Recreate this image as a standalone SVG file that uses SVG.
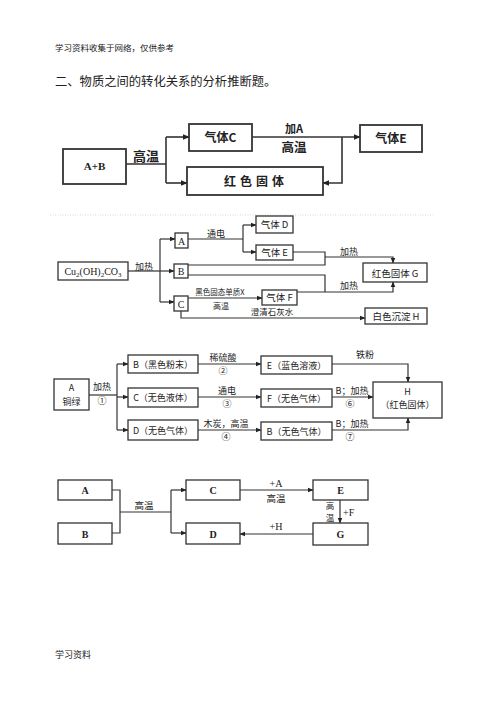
<svg xmlns="http://www.w3.org/2000/svg" width="500" height="707" viewBox="0 0 500 707">
<defs>
<marker id="ah" viewBox="0 0 10 10" refX="9" refY="5" markerWidth="6" markerHeight="6" orient="auto" markerUnits="userSpaceOnUse"><path d="M0,1 L10,5 L0,9 Z" fill="#222"/></marker>
<marker id="ah2" viewBox="0 0 10 10" refX="9" refY="5" markerWidth="7" markerHeight="7" orient="auto" markerUnits="userSpaceOnUse"><path d="M0,1 L10,5 L0,9 Z" fill="#222"/></marker>
<style>
text{font-family:"Noto Sans CJK SC","Liberation Serif",serif;fill:#222}
.c{text-anchor:middle}
.box{fill:#fff;stroke:#333;stroke-width:1.3}
.box1{fill:#fff;stroke:#333;stroke-width:1.8}
.ln{fill:none;stroke:#333;stroke-width:1.2}
.ln1{fill:none;stroke:#333;stroke-width:1.6}
.b1{font-weight:bold;font-size:12px}
.t2{font-size:9px}
.t4{font-size:10px;font-weight:bold}
.ser{font-family:"Liberation Serif","Noto Sans CJK SC",serif}
</style>
</defs>
<rect width="500" height="707" fill="#fff"/>
<text x="55" y="51" style="font-size:8.5px">学习资料收集于网络，仅供参考</text>
<text x="55" y="86" style="font-size:12.3px">二、物质之间的转化关系的分析推断题。</text>
<text x="55" y="658" style="font-size:9px">学习资料</text>
<line x1="50" y1="215" x2="433" y2="215" stroke="#ccc" stroke-width="0.8" stroke-dasharray="1,1.5"/>

<!-- Diagram 1 -->
<g id="d1-connectors">
<path class="ln1" d="M126,164 H166"/>
<path class="ln1" d="M166,137 V183"/>
<path class="ln1" d="M166,137 H189" marker-end="url(#ah2)"/>
<path class="ln1" d="M166,183 H187" marker-end="url(#ah2)"/>
<path class="ln1" d="M252,137 H360" marker-end="url(#ah2)"/>
<path class="ln1" d="M342,137 V183 H323" marker-end="url(#ah2)"/>
<text class="b1 c" x="146" y="161" style="font-size:13px">高温</text>
<text class="b1 c" x="294" y="133" style="font-size:11px">加A</text>
<text class="b1 c" x="294" y="152" style="font-size:12.5px">高温</text>
</g>
<g id="d1-AB"><rect class="box1" x="63" y="149" width="63" height="35"/><text class="b1 c ser" x="94.5" y="170" style="font-size:11px">A+B</text></g>
<g id="d1-gasC"><rect class="box1" x="189" y="124" width="63" height="27"/><text class="b1 c" x="220.5" y="142">气体C</text></g>
<g id="d1-red"><rect class="box1" x="187" y="167" width="136" height="28"/><text class="b1 c" x="256" y="186" style="letter-spacing:4px">红色固体</text></g>
<g id="d1-gasE"><rect class="box1" x="360" y="125" width="62" height="27"/><text class="b1 c" x="391" y="143">气体E</text></g>

<!-- Diagram 2 -->
<g id="d2-connectors">
<path class="ln" d="M128,271 H160"/>
<path class="ln" d="M160,239 V302"/>
<path class="ln" d="M160,239 H175" marker-end="url(#ah)"/>
<path class="ln" d="M160,271 H174" marker-end="url(#ah)"/>
<path class="ln" d="M160,302 H174" marker-end="url(#ah)"/>
<path class="ln" d="M188,239 H243"/>
<path class="ln" d="M243,225 V252"/>
<path class="ln" d="M243,225 H256" marker-end="url(#ah)"/>
<path class="ln" d="M243,252 H256" marker-end="url(#ah)"/>
<path class="ln" d="M293,252 H325 V265 H188"/>
<path class="ln" d="M325,257 H393 V263" marker-end="url(#ah)"/>
<path class="ln" d="M188,275 H325 V292"/>
<path class="ln" d="M297,292 H393 V282" marker-end="url(#ah)"/>
<path class="ln" d="M188,298 H262" marker-end="url(#ah)"/>
<path class="ln" d="M181,311 V318 H365" marker-end="url(#ah)"/>
<text class="t2 c" x="144" y="270">加热</text>
<text class="t2 c" x="216" y="237">通电</text>
<text class="t2 c" x="349" y="255">加热</text>
<text class="t2 c" x="349" y="289">加热</text>
<text class="c" x="220" y="295" style="font-size:7.5px">黑色固态单质X</text>
<text class="c" x="221" y="309" style="font-size:8px">高温</text>
<text class="c" x="272" y="315" style="font-size:8.5px">澄清石灰水</text>
</g>
<g id="d2-cu"><rect class="box" x="58" y="262" width="70" height="18"/><text class="c ser" x="93" y="275" style="font-size:10px">Cu<tspan dy="2" style="font-size:7px">2</tspan><tspan dy="-2">(OH)</tspan><tspan dy="2" style="font-size:7px">2</tspan><tspan dy="-2">CO</tspan><tspan dy="2" style="font-size:7px">3</tspan></text></g>
<g id="d2-A"><rect class="box" x="175" y="233" width="13" height="15"/><text class="c ser" x="181.5" y="244.5" style="font-size:10px">A</text></g>
<g id="d2-B"><rect class="box" x="174" y="264" width="14" height="14"/><text class="c ser" x="181" y="275" style="font-size:10px">B</text></g>
<g id="d2-C"><rect class="box" x="174" y="296" width="14" height="15"/><text class="c ser" x="181" y="307.5" style="font-size:10px">C</text></g>
<g id="d2-D"><rect class="box" x="256" y="216" width="37" height="17"/><text class="c" x="274.5" y="228" style="font-size:9.5px">气体 D</text></g>
<g id="d2-E"><rect class="box" x="256" y="245" width="37" height="15"/><text class="c" x="274.5" y="256" style="font-size:9.5px">气体 E</text></g>
<g id="d2-F"><rect class="box" x="262" y="290" width="35" height="15"/><text class="c" x="279.5" y="301" style="font-size:9.5px">气体 F</text></g>
<g id="d2-G"><rect class="box" x="363" y="263" width="64" height="19"/><text class="c" x="395" y="276.5" style="font-size:9.5px">红色固体 G</text></g>
<g id="d2-H"><rect class="box" x="365" y="308" width="62" height="16"/><text class="c" x="396" y="320" style="font-size:9.5px">白色沉淀 H</text></g>

<!-- Diagram 3 -->
<g id="d3-connectors">
<path class="ln" d="M89,395 H117"/>
<path class="ln" d="M117,364 V430"/>
<path class="ln" d="M117,364 H128" marker-end="url(#ah)"/>
<path class="ln" d="M117,397 H128" marker-end="url(#ah)"/>
<path class="ln" d="M117,430 H128" marker-end="url(#ah)"/>
<path class="ln" d="M198,364 H261" marker-end="url(#ah)"/>
<path class="ln" d="M198,397 H261" marker-end="url(#ah)"/>
<path class="ln" d="M198,430 H261" marker-end="url(#ah)"/>
<path class="ln" d="M332,364 H408 V382" marker-end="url(#ah)"/>
<path class="ln" d="M332,397 H373" marker-end="url(#ah)"/>
<path class="ln" d="M332,430 H408 V418" marker-end="url(#ah)"/>
<text class="t2 c" x="102" y="390">加热</text>
<text class="t2 c" x="102" y="404">①</text>
<text class="t2 c" x="223" y="361">稀硫酸</text>
<text class="t2 c" x="223" y="374">②</text>
<text class="t2 c" x="227" y="394">通电</text>
<text class="t2 c" x="227" y="407">③</text>
<text class="t2 c" x="226" y="427">木炭，高温</text>
<text class="t2 c" x="226" y="440">④</text>
<text class="t2 c" x="365" y="358">铁粉</text>
<text class="t2 c" x="352" y="394">B；加热</text>
<text class="t2 c" x="350" y="407">⑥</text>
<text class="t2 c" x="352" y="427">B；加热</text>
<text class="t2 c" x="350" y="440">⑦</text>
</g>
<g id="d3-A"><rect class="box" x="54" y="379" width="35" height="31"/><text class="t2 c" x="71.5" y="391">A</text><text class="t2 c" x="71.5" y="405">铜绿</text></g>
<g id="d3-B"><rect class="box" x="128" y="355" width="70" height="18"/><text class="t2 c" x="163" y="367.5">B（黑色粉末）</text></g>
<g id="d3-C"><rect class="box" x="128" y="388" width="70" height="19"/><text class="t2 c" x="163" y="400.5">C（无色液体）</text></g>
<g id="d3-D"><rect class="box" x="128" y="420" width="70" height="20"/><text class="t2 c" x="163" y="433.5">D（无色气体）</text></g>
<g id="d3-E"><rect class="box" x="261" y="356" width="71" height="18"/><text class="t2 c" x="296.5" y="368.5">E（蓝色溶液）</text></g>
<g id="d3-F"><rect class="box" x="261" y="389" width="71" height="18"/><text class="t2 c" x="296.5" y="401.5">F（无色气体）</text></g>
<g id="d3-B2"><rect class="box" x="261" y="422" width="71" height="18"/><text class="t2 c" x="296.5" y="434.5">B（无色气体）</text></g>
<g id="d3-H"><rect class="box" x="373" y="382" width="69" height="36"/><text class="t2 c" x="407.5" y="395">H</text><text class="t2 c" x="407.5" y="408">（红色固体）</text></g>

<!-- Diagram 4 -->
<g id="d4-connectors">
<path class="ln" d="M112,490 H120 V533 H112"/>
<path class="ln" d="M120,512 H171"/>
<path class="ln" d="M171,490 V533"/>
<path class="ln" d="M171,490 H186" marker-end="url(#ah)"/>
<path class="ln" d="M171,533 H186" marker-end="url(#ah)"/>
<path class="ln" d="M240,490 H313" marker-end="url(#ah)"/>
<path class="ln" d="M340,500 V523" marker-end="url(#ah)"/>
<path class="ln" d="M313,534 H240" marker-end="url(#ah)"/>
<text class="c" x="144" y="509" style="font-size:9.5px">高温</text>
<text class="c ser" x="276" y="487" style="font-size:10px">+A</text>
<text class="c" x="276" y="502" style="font-size:9.5px">高温</text>
<text class="c" x="330" y="509" style="font-size:8.5px">高</text>
<text class="c" x="330" y="521" style="font-size:8.5px">温</text>
<text class="ser" x="343" y="516" style="font-size:10px">+F</text>
<text class="c ser" x="276" y="530" style="font-size:10px">+H</text>
</g>
<g id="d4-A"><rect class="box" x="58" y="480" width="54" height="20"/><text class="t4 c ser" x="85" y="494">A</text></g>
<g id="d4-B"><rect class="box" x="58" y="523" width="54" height="21"/><text class="t4 c ser" x="85" y="537.5">B</text></g>
<g id="d4-C"><rect class="box" x="186" y="480" width="54" height="20"/><text class="t4 c ser" x="213" y="494">C</text></g>
<g id="d4-D"><rect class="box" x="186" y="523" width="54" height="21"/><text class="t4 c ser" x="213" y="537.5">D</text></g>
<g id="d4-E"><rect class="box" x="313" y="480" width="55" height="20"/><text class="t4 c ser" x="340.5" y="494">E</text></g>
<g id="d4-G"><rect class="box" x="313" y="523" width="55" height="22"/><text class="t4 c ser" x="340.5" y="538">G</text></g>
</svg>
